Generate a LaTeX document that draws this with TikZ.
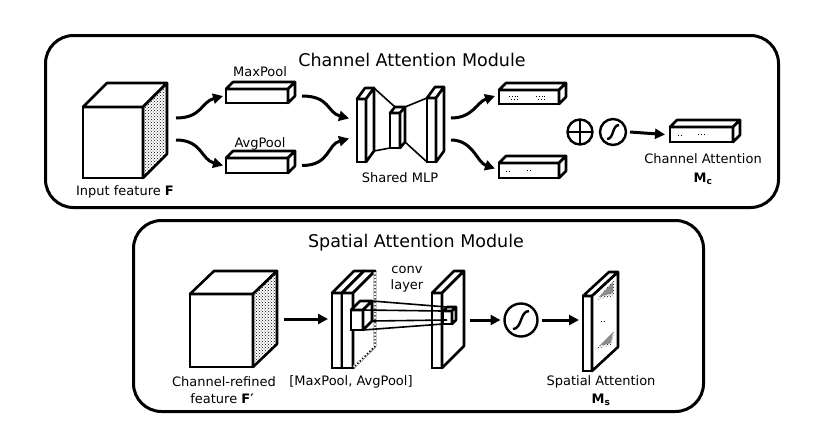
\documentclass[tikz,border=0pt]{standalone}
\usepackage{fontspec}
\setmainfont{DejaVu Sans}
\usetikzlibrary{arrows.meta,patterns,calc}

% #1 name, #2 x, #3 y (front top-left), #4 w, #5 h, #6 dx, #7 dy, #8 side face options
\newcommand\cuboid[8]{%
  \node[face, minimum width=#4pt, minimum height=#5pt, anchor=north west] (#1) at (#2,#3) {};
  \path[edge, draw, fill=white] (#1.north west) -- ($(#1.north west)+(#6,#7)$) -- ($(#1.north east)+(#6,#7)$) -- (#1.north east) -- cycle;
  \path[edge, draw, #8] (#1.north east) -- ($(#1.north east)+(#6,#7)$) -- ($(#1.south east)+(#6,#7)$) -- (#1.south east) -- cycle;
}

\begin{document}
\begin{tikzpicture}[x=1pt,y=-1pt,
  frame/.style={draw, line width=3pt, rounded corners=28pt},
  face/.style={draw, fill=white, line width=2.6pt, outer sep=0pt, inner sep=0pt},
  edge/.style={line width=2.6pt, line join=round},
  thin/.style={line width=1.6pt},
  flow/.style={line width=3pt, -{Triangle[length=10pt,width=10pt]}},
  title/.style={font=\fontsize{17.5}{20}\selectfont, inner sep=0pt},
  lbl/.style={font=\fontsize{13}{15}\selectfont, inner sep=0pt},
  op/.style={draw, circle, line width=2.4pt, inner sep=0pt, outer sep=0pt},
  dotty/.style={pattern=crosshatch dots, preaction={fill=white}},
  plain/.style={fill=white}]
\useasboundingbox (0,0) rectangle (822,424);

% ================= Channel Attention Module =================
\node[frame, minimum width=733pt, minimum height=172pt, anchor=north west] (topbox) at (44,34) {};
\node[title] (ttl1) at (412,60) {Channel Attention Module};

\cuboid{cube}{83}{107}{60}{71}{24}{-24}{dotty}
\node[lbl] (lin) at (125,192) {Input feature \textbf{F}};

\cuboid{mp}{226}{89}{62}{14}{7}{-7}{plain}
\node[lbl] (lmp) at (260,72) {MaxPool};
\cuboid{ap}{226}{158}{62}{15}{7}{-7}{plain}
\node[lbl] (lap) at (260,144) {AvgPool};

\coordinate (c1s) at (176,118);
\coordinate (c2s) at (176,140);
\draw[flow] (c1s) .. controls +(26,0) and +(-22,6) .. ($(mp.west)+(-3,0)$);
\draw[flow] (c2s) .. controls +(26,0) and +(-22,-6) .. ($(ap.west)+(-3,0)$);

% Shared MLP
\cuboid{mlpl}{357}{99}{9}{63}{8}{-11}{plain}
\cuboid{mlpm}{390}{113}{10}{35}{5}{-6}{plain}
\cuboid{mlpr}{427}{98}{9}{64}{8}{-11}{plain}
\draw[thin] ($(mlpl.north east)+(8,-11)$) -- ($(mlpm.north west)+(5,-6)$);
\draw[thin] ($(mlpl.south east)+(8,-11)$) -- (mlpm.south west);
\draw[thin] ($(mlpm.north east)+(5,-6)$) -- ($(mlpr.north west)+(0,0)$);
\draw[thin] ($(mlpm.south east)+(5,-6)$) -- (mlpr.south west);
\node[lbl] (lmlp) at (400,178) {Shared MLP};

\draw[flow] ($(mp.east)+(14,0)$) .. controls +(28,0) and +(-22,-6) .. ($(mlpl.west)+(-8,-12)$);
\draw[flow] ($(ap.east)+(14,0)$) .. controls +(28,0) and +(-22,6) .. ($(mlpl.west)+(-8,8)$);

\cuboid{o1}{499}{90}{60}{14}{7}{-7}{plain}
\cuboid{o2}{499}{163}{60}{15}{7}{-7}{plain}
\draw[dotted, line width=0.8pt] (509,96) -- (518,96) (511,99) -- (517,99) (536,96) -- (545,96) (538,99) -- (544,99);
\draw[dotted, line width=0.8pt] (506,171) -- (510,171) (527,170) -- (532,170);
\draw[flow] ($(mlpr.east)+(15,-12)$) .. controls +(22,0) and +(-18,6) .. ($(o1.west)+(-4,-1)$);
\draw[flow] ($(mlpr.east)+(15,10)$) .. controls +(22,0) and +(-18,-6) .. ($(o2.west)+(-4,-2)$);

\node[op, minimum size=25pt] (plus) at (580,132) {};
\draw[line width=2.4pt] (plus.north) -- (plus.south) (plus.west) -- (plus.east);
\node[op, minimum size=26pt] (sig1) at (613,132) {};
\draw[line width=2.4pt] ($(sig1.center)+(-6,7)$) .. controls +(7,0) and +(-7,0) .. ($(sig1.center)+(6,-7)$);

\cuboid{ca}{670}{127}{63}{15}{7}{-7}{plain}
\draw[dotted, line width=0.8pt] (678,135) -- (681,135) (698,134) -- (704,134);
\draw[flow] (sig1.east) ++(4,0) coordinate (s1o) -- ($(ca.west)+(-5,0)$);
\node[lbl] (lca) at (703,159) {Channel Attention};
\node[lbl] (lmc) at (703,179) {\textbf{M}\textsubscript{\textbf{c}}};

% ================= Spatial Attention Module =================
\node[frame, minimum width=570pt, minimum height=191pt, anchor=north west] (botbox) at (132,219) {};
\node[title] (ttl2) at (416,243) {Spatial Attention Module};

\cuboid{cube2}{190}{294}{63}{73}{24}{-23}{dotty}
\node[lbl] (lcr1) at (224,382) {Channel-refined};
\node[lbl] (lcr2) at (222,399) {feature \textbf{F′}};

\cuboid{sl1}{332}{293}{10}{75}{22}{-22}{plain}
\cuboid{sl2}{342}{293}{11}{75}{22}{-22}{plain}
\draw[white, line width=2.8pt] ($(sl2.north east)+(22,-21)$) -- ($(sl2.south east)+(22,-23)$) -- ($(sl2.south east)+(1,-1)$);
\draw[dotted, line width=1.4pt] ($(sl2.north east)+(22,-22)$) -- ($(sl2.south east)+(22,-22)$) -- (sl2.south east);
\node[lbl] (lpool) at (351,382) {[MaxPool, AvgPool]};

\cuboid{cs}{432}{293}{10}{75}{22}{-22}{plain}
\cuboid{sc}{351}{310}{12}{20}{9}{-9}{plain}
\cuboid{tc}{443}{311}{9}{13}{4}{-4}{plain}
\draw[thin] ($(sc.north east)+(9,-9)$) -- ($(tc.north west)+(4,-4)$);
\draw[thin] (sc.north east) -- (tc.north west);
\draw[thin] ($(sc.south east)+(9,-9)$) -- ($(tc.south west)+(4,-4)$);
\draw[thin] (sc.south east) -- (tc.south west);
\node[lbl] (lconv1) at (407,270) {conv};
\node[lbl] (lconv2) at (407,286) {layer};

\coordinate (b1s) at (284,319);
\draw[flow, shorten >=4pt] (b1s) -- (b1s -| sl1.west);
\node[op, minimum size=33pt] (sig2) at (521,320) {};
\draw[line width=2.4pt] ($(sig2.center)+(-8,9)$) .. controls +(9,0) and +(-9,0) .. ($(sig2.center)+(8,-9)$);
\coordinate (b2s) at (470,320);
\draw[flow, shorten >=4pt] (b2s) -- (sig2.west);

\cuboid{ms}{583}{296}{9}{75}{26}{-24}{plain}
\fill[pattern=crosshatch dots] (596,300) -- (614,280) -- (614,296) -- cycle;
\fill[pattern=crosshatch dots] (596,349) -- (614,330) -- (612,345) -- cycle;
\fill[black!45] (599,297) -- (613,282) -- (613,293) -- cycle;
\fill[black!45] (599,346) -- (613,332) -- (611,343) -- cycle;
\draw[dotted, line width=0.8pt] (601,321) -- (606,321);
\draw[flow, shorten >=4pt] ($(sig2.east)+(4,0)$) -- (ms.west |- sig2.east);
\node[lbl] (lsa) at (601,382) {Spatial Attention};
\node[lbl] (lms) at (601,400) {\textbf{M}\textsubscript{\textbf{s}}};
\end{tikzpicture}
\end{document}
